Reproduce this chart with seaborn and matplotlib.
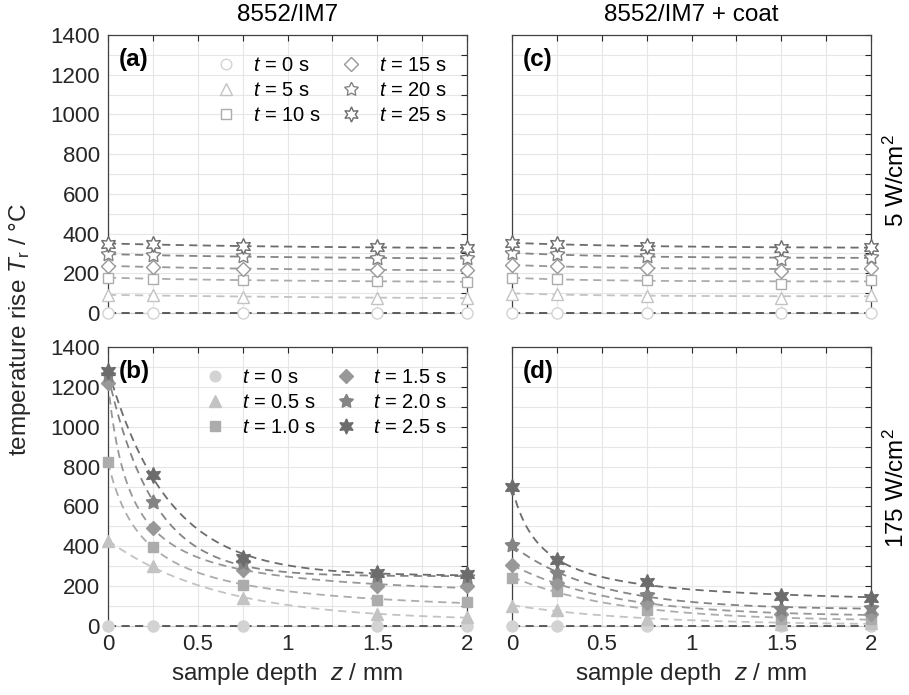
import numpy as np
import pandas as pd
import matplotlib
matplotlib.use("Agg")
import matplotlib.pyplot as plt
import seaborn as sns
from matplotlib.lines import Line2D
from matplotlib.ticker import MultipleLocator, FuncFormatter

# ---------------- data ----------------
depth = [0.0, 0.25, 0.75, 1.5, 2.0]

labels_low = ["0", "5", "10", "15", "20", "25"]
labels_high = ["0", "0.5", "1.0", "1.5", "2.0", "2.5"]

# (a) 8552/IM7, 5 W/cm2
a_t0 = [0, 0, 0, 0, 0]
a_t5 = [90, 90, 82, 77, 75]
a_t10 = [178, 173, 165, 160, 157]
a_t15 = [237, 232, 223, 218, 215]
a_t20 = [297, 290, 285, 277, 275]
a_t25 = [350, 345, 337, 330, 328]

# (c) 8552/IM7 + coat, 5 W/cm2
c_t0 = [0, 0, 0, 0, 0]
c_t5 = [98, 95, 87, 78, 90]
c_t10 = [177, 170, 165, 148, 168]
c_t15 = [240, 237, 228, 212, 228]
c_t20 = [302, 295, 285, 273, 282]
c_t25 = [352, 348, 337, 327, 332]

# (b) 8552/IM7, 175 W/cm2
b_t0 = [0, 0, 0, 0, 0]
b_t05 = [427, 300, 141, 59, 45]
b_t10 = [822, 394, 208, 129, 122]
b_t15 = [1219, 490, 283, 200, 200]
b_t20 = [1260, 624, 315, 250, 245]
b_t25 = [1282, 758, 342, 267, 262]

# (d) 8552/IM7 + coat, 175 W/cm2
d_t0 = [0, 0, 0, 0, 0]
d_t05 = [102, 79, 37, 12, 15]
d_t10 = [243, 176, 82, 37, 37]
d_t15 = [305, 216, 113, 59, 61]
d_t20 = [406, 267, 154, 87, 92]
d_t25 = [696, 330, 221, 149, 143]

col_titles = ["8552/IM7", "8552/IM7 + coat"]
row_labels = ["5 W/cm$^2$", "175 W/cm$^2$"]

# ---------------- style ----------------
colors = ["#d3d3d3", "#c3c3c3", "#acacac", "#989898", "#848484", "#6c6c6c"]
zero_line_color = "#505050"
markers = ["o", "^", "s", "D", (5, 1, 0), (6, 1, 0)]
msizes = [8, 8.5, 7.5, 7, 11, 11.5]

sns.set_style("white")
plt.rcParams["font.family"] = ["Liberation Sans", "DejaVu Sans"]
plt.rcParams["mathtext.fontset"] = "custom"
plt.rcParams["mathtext.rm"] = "Liberation Sans"
plt.rcParams["mathtext.it"] = "Liberation Sans:italic"
plt.rcParams["mathtext.bf"] = "Liberation Sans:bold"

TXT = "#262626"
TICK_FS = 16
LAB_FS = 17.5
LEG_FS = 14.5


def fit_curve(x, y):
    """Least-squares decay fit: best of c + a*exp(-x/L) and c + a/(x + x0)."""
    x = np.asarray(x, float)
    y = np.asarray(y, float)
    best = None
    for kind in ("exp", "hyp"):
        grid = np.geomspace(0.03, 50, 600)
        for L in grid:
            basis = np.exp(-x / L) if kind == "exp" else 1.0 / (x + L)
            A = np.column_stack([basis, np.ones_like(x)])
            coef, *_ = np.linalg.lstsq(A, y, rcond=None)
            r = np.sum((A @ coef - y) ** 2)
            if best is None or r < best[0] - 1e-9:
                best = (r, kind, L, coef)
    _, kind, L, coef = best
    xs = np.linspace(0, 2, 300)
    basis = np.exp(-xs / L) if kind == "exp" else 1.0 / (xs + L)
    return xs, coef[0] * basis + coef[1]


fig = plt.figure(figsize=(9.09, 6.95), dpi=100)
W = 359 / 909
pos = {
    "a": [108 / 909, 1 - 313 / 695, W, 278 / 695],
    "c": [512 / 909, 1 - 313 / 695, W, 278 / 695],
    "b": [108 / 909, 1 - 626 / 695, W, 279 / 695],
    "d": [512 / 909, 1 - 626 / 695, W, 279 / 695],
}
panels = {
    "a": [a_t0, a_t5, a_t10, a_t15, a_t20, a_t25],
    "c": [c_t0, c_t5, c_t10, c_t15, c_t20, c_t25],
    "b": [b_t0, b_t05, b_t10, b_t15, b_t20, b_t25],
    "d": [d_t0, d_t05, d_t10, d_t15, d_t20, d_t25],
}
fmt = FuncFormatter(lambda v, p: f"{v:g}")

axes = {}
for key in ["a", "c", "b", "d"]:
    ax = fig.add_axes(pos[key])
    axes[key] = ax
    filled = key in ("b", "d")
    for i, series in enumerate(panels[key]):
        xs, ys = fit_curve(depth, series)
        df_fit = pd.DataFrame({"z": xs, "T": ys})
        lc = zero_line_color if i == 0 else colors[i]
        sns.lineplot(data=df_fit, x="z", y="T", ax=ax, color=lc,
                     linestyle=(0, (4.5, 3)), linewidth=1.3, zorder=2.6,
                     clip_on=False)
        df_pts = pd.DataFrame({"z": depth, "T": series})
        sns.lineplot(data=df_pts, x="z", y="T", ax=ax, color=colors[i],
                     linestyle="none", marker=markers[i], markersize=msizes[i],
                     mfc=colors[i] if filled else "white", mec=colors[i],
                     mew=1.0, clip_on=False, zorder=4)
    ax.set_xlim(0, 2)
    ax.set_ylim(0, 1400)
    ax.xaxis.set_major_locator(MultipleLocator(0.5))
    ax.xaxis.set_minor_locator(MultipleLocator(0.25))
    ax.yaxis.set_major_locator(MultipleLocator(200))
    ax.yaxis.set_minor_locator(MultipleLocator(100))
    ax.xaxis.set_major_formatter(fmt)
    ax.grid(True, which="both", color="#e6e6e6", linewidth=0.8)
    ax.set_axisbelow(True)
    ax.tick_params(which="both", direction="in", top=True, right=True,
                   length=4, width=0.8, color=TXT, labelsize=TICK_FS,
                   labelcolor=TXT, pad=6)
    for name, sp in ax.spines.items():
        sp.set_color("#404040")
        sp.set_linewidth(0.9)
    ax.spines["bottom"].set_color("#cfcfcf")
    ax.spines["bottom"].set_zorder(2.5)
    ax.set_xlabel("")
    ax.set_ylabel("")
    if key in ("a", "c"):
        ax.tick_params(labelbottom=False)
    else:
        ax.set_xlabel("sample depth  $z$ / mm", fontsize=LAB_FS, color=TXT, labelpad=4)
    if key in ("c", "d"):
        ax.tick_params(labelleft=False)

tags = {"a": "(a)", "c": "(c)", "b": "(b)", "d": "(d)"}
for key, ax in axes.items():
    ax.text(0.03, 0.955, tags[key], transform=ax.transAxes, fontsize=LAB_FS,
            fontweight="bold", va="top", ha="left", color="black", zorder=6)

axes["a"].set_title(col_titles[0], fontsize=LAB_FS, color="black", pad=10)
axes["c"].set_title(col_titles[1], fontsize=LAB_FS, color="black", pad=10)

fig.text(896 / 909, 1 - 180 / 695, row_labels[0], rotation=90, fontsize=LAB_FS,
         ha="center", va="center", color="black")
fig.text(896 / 909, 1 - 488 / 695, row_labels[1], rotation=90, fontsize=LAB_FS,
         ha="center", va="center", color="black")
fig.text(20 / 909, 1 - 330 / 695, "temperature rise $T_\\mathrm{r}$ / °C",
         rotation=90, fontsize=LAB_FS, ha="center", va="center", color=TXT)

# legends
for key, labs, filled in [("a", labels_low, False), ("b", labels_high, True)]:
    handles = []
    for i in range(6):
        handles.append(Line2D([], [], linestyle="none", marker=markers[i],
                              markersize=msizes[i] * 0.95, mec=colors[i],
                              mfc=colors[i] if filled else "white", mew=1.0))
    texts = [f"$t$ = {l} s" for l in labs]
    axes[key].legend(handles, texts, ncol=2, frameon=False, fontsize=LEG_FS,
                     loc="upper right", bbox_to_anchor=(0.965, 0.955),
                     labelspacing=0.32, columnspacing=1.0, handlelength=1.0,
                     handletextpad=0.85, borderaxespad=0.0, labelcolor="black")

fig.savefig("out.png", dpi=100)
